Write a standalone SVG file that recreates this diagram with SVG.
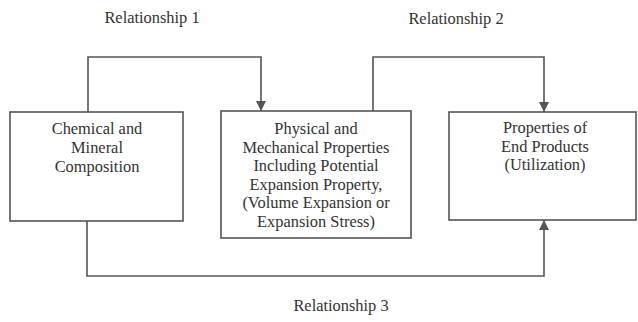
<svg xmlns="http://www.w3.org/2000/svg" width="638" height="322" viewBox="0 0 638 322">
<style>
.box{fill:#fff;stroke:#555;stroke-width:1.6}
.ln{fill:none;stroke:#555;stroke-width:1.6}
text{font-family:"Liberation Serif","Times New Roman",serif;font-size:16.4px;fill:#333;text-anchor:middle}
</style>
<defs>
<marker id="ah" viewBox="0 0 10 10" refX="10" refY="5" markerWidth="10" markerHeight="10" markerUnits="userSpaceOnUse" orient="auto">
<path d="M0,0 L10,5 L0,10 Z" fill="#555"/>
</marker>
</defs>
<g id="connectors">
<path class="ln" d="M88,112 V57 H261 V111" marker-end="url(#ah)"/>
<path class="ln" d="M373,111 V57 H544 V112" marker-end="url(#ah)"/>
<path class="ln" d="M87,221 V276 H544 V220" marker-end="url(#ah)"/>
</g>
<g id="label1"><text x="152" y="23">Relationship 1</text></g>
<g id="label2"><text x="456" y="24">Relationship 2</text></g>
<g id="label3"><text x="341" y="311">Relationship 3</text></g>
<g id="node1">
<rect class="box" x="10" y="112" width="173" height="109"/>
<text x="97" y="134">Chemical and</text>
<text x="97" y="153">Mineral</text>
<text x="97" y="172">Composition</text>
</g>
<g id="node2">
<rect class="box" x="221" y="111" width="190" height="127"/>
<text x="316" y="134">Physical and</text>
<text x="316" y="153">Mechanical Properties</text>
<text x="316" y="171">Including Potential</text>
<text x="316" y="190">Expansion Property,</text>
<text x="316" y="208">(Volume Expansion or</text>
<text x="316" y="227">Expansion Stress)</text>
</g>
<g id="node3">
<rect class="box" x="449" y="112" width="187" height="108"/>
<text x="545" y="133">Properties of</text>
<text x="545" y="152">End Products</text>
<text x="545" y="170">(Utilization)</text>
</g>
</svg>
